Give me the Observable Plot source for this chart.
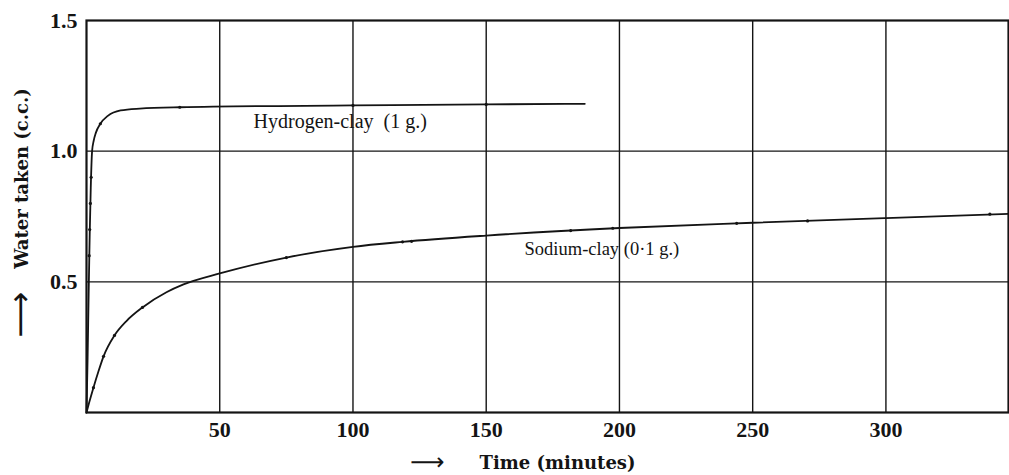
<!DOCTYPE html>
<html><head><meta charset="utf-8">
<script src="https://cdn.jsdelivr.net/npm/d3@7"></script>
<script src="https://cdn.jsdelivr.net/npm/@observablehq/plot@0.6"></script>
<style>html,body{margin:0;padding:0;background:#fff}svg{display:block}</style>
</head><body><div id="chart"></div>
<script>
// Hydrogen-clay (1 g.) smooth curve (time in minutes, water taken in c.c.)
const hydrogenTime  = [0, 0.4, 0.8, 1.2, 1.6, 2.1, 2.7, 3.5, 5.2, 8, 12.8, 20, 35, 100, 150, 187];
const hydrogenWater = [0, 0.2, 0.45, 0.68, 0.86, 1.0, 1.04, 1.07, 1.105, 1.135, 1.156, 1.163, 1.168, 1.175, 1.179, 1.181];
// Hydrogen-clay observed points
const hydrogenDotTime  = [1.0, 1.2, 1.45, 1.75, 5.2, 35, 100, 150];
const hydrogenDotWater = [0.6, 0.7, 0.8, 0.9, 1.105, 1.168, 1.175, 1.179];

// Sodium-clay (0.1 g.) smooth curve
const sodiumTime  = [0, 1, 2.6, 4.5, 6.4, 10.5, 15, 21, 30, 36.4, 50, 75, 100, 118.6, 150, 200, 250, 300, 346];
const sodiumWater = [0, 0.038, 0.095, 0.158, 0.215, 0.295, 0.35, 0.402, 0.46, 0.49, 0.532, 0.593, 0.634, 0.653, 0.677, 0.706, 0.726, 0.744, 0.76];
// Sodium-clay observed points
const sodiumDotTime  = [2.6, 6.4, 10.5, 21, 75, 118.6, 122, 181.7, 197.5, 244, 270.6, 339];
const sodiumDotWater = [0.095, 0.215, 0.295, 0.402, 0.593, 0.653, 0.655, 0.696, 0.705, 0.724, 0.733, 0.759];

// Axis ticks
const xTicks = [50, 100, 150, 200, 250, 300];
const yTicks = [0.5, 1.0, 1.5];
const yGrid = [0.5, 1.0];

// Curve labels
const hydrogenLabel = "Hydrogen-clay  (1 g.)";
const hydrogenLabelTime = 62.7;
const hydrogenLabelWater = 1.115;
const sodiumLabel = "Sodium-clay (0·1 g.)";
const sodiumLabelTime = 164.4;
const sodiumLabelWater = 0.627;

const zip = (xs, ys) => xs.map((x, i) => ({x, y: ys[i]}));
const hydrogen = zip(hydrogenTime, hydrogenWater);
const hydrogenDots = zip(hydrogenDotTime, hydrogenDotWater);
const sodium = zip(sodiumTime, sodiumWater);
const sodiumDots = zip(sodiumDotTime, sodiumDotWater);

const ink = "#141414";
const boldFont = "DejaVu Serif";
const tickFont = "Liberation Serif";

const chart = Plot.plot({
  width: 1009,
  height: 475,
  marginLeft: 86,
  marginRight: 1,
  marginTop: 20,
  marginBottom: 63,
  style: {background: "#fff", color: ink, fontFamily: tickFont},
  x: {domain: [0, 346]},
  y: {domain: [0, 1.5]},
  marks: [
    Plot.ruleX(xTicks, {stroke: ink, strokeWidth: 1.4}),
    Plot.ruleY(yGrid, {stroke: ink, strokeWidth: 1.4}),
    Plot.line(hydrogen, {x: "x", y: "y", stroke: ink, strokeWidth: 1.8, curve: "monotone-x"}),
    Plot.line(sodium, {x: "x", y: "y", stroke: ink, strokeWidth: 1.8, curve: "monotone-x"}),
    Plot.dot(hydrogenDots, {x: "x", y: "y", r: 1.6, fill: ink, stroke: null}),
    Plot.dot(sodiumDots, {x: "x", y: "y", r: 1.6, fill: ink, stroke: null}),
    Plot.text([hydrogenLabel], {x: () => hydrogenLabelTime, y: () => hydrogenLabelWater, textAnchor: "start", fontSize: 20, fontFamily: tickFont, fill: ink}),
    Plot.text([sodiumLabel], {x: () => sodiumLabelTime, y: () => sodiumLabelWater, textAnchor: "start", fontSize: 18.5, fontFamily: tickFont, fill: ink}),
    Plot.frame({stroke: ink, strokeWidth: 2.2}),
    Plot.axisX(xTicks, {tickSize: 0, tickPadding: 9, fontSize: 22, fontWeight: "bold", fontFamily: tickFont, label: null, fill: ink}),
    Plot.axisY(yTicks, {tickSize: 0, tickPadding: 9, fontSize: 22, fontWeight: "bold", fontFamily: tickFont, label: null, tickFormat: d3.format(".1f"), fill: ink}),
    Plot.text(["Time (minutes)"], {frameAnchor: "bottom", textAnchor: "middle", lineAnchor: "middle", dx: 10, dy: 51, fontSize: 18, fontWeight: "bold", fontFamily: boldFont, fill: ink}),
    Plot.text(["\u27F6"], {frameAnchor: "bottom", textAnchor: "middle", lineAnchor: "middle", dx: -120, dy: 50, fontSize: 24, fontFamily: "DejaVu Sans", fill: ink}),
    Plot.text(["Water taken (c.c.)"], {frameAnchor: "left", textAnchor: "middle", lineAnchor: "middle", dx: -64, dy: -38, rotate: -90, fontSize: 18, fontWeight: "bold", fontFamily: boldFont, fill: ink}),
    Plot.text(["\u27F6"], {frameAnchor: "left", textAnchor: "middle", lineAnchor: "middle", dx: -66, dy: 98, rotate: -90, fontSize: 32, fontFamily: "DejaVu Sans", fill: ink})
  ]
});
document.getElementById("chart").appendChild(chart);
</script>
</body></html>
